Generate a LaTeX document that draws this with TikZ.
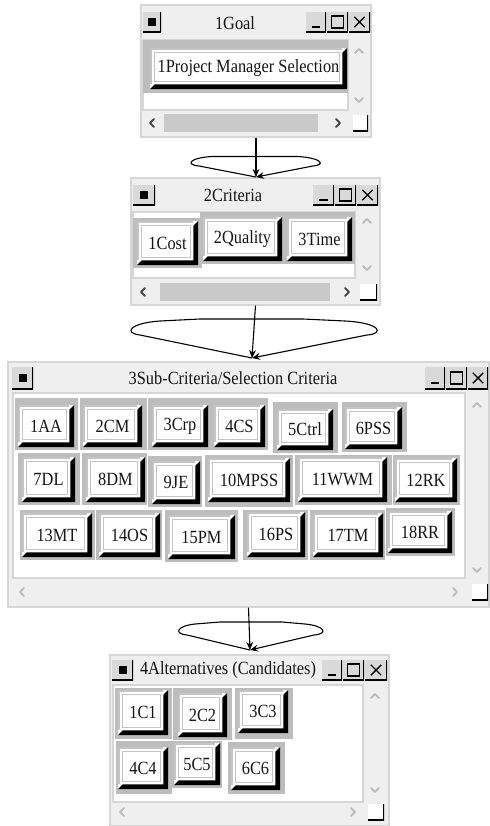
\documentclass[tikz,border=0pt]{standalone}
\usepackage{fontspec}
\setmainfont[FakeStretch=0.88]{Liberation Serif}
\usepackage{tikz}
\usetikzlibrary{arrows.meta}
\definecolor{frame}{HTML}{EFEFEF}
\definecolor{frameB}{HTML}{D6D6D6}
\definecolor{cell}{HTML}{BDBDBD}
\definecolor{face}{HTML}{C4C4C4}
\definecolor{tface}{HTML}{D9D9D9}
\definecolor{thumb}{HTML}{C9C9C9}
\definecolor{chevdark}{HTML}{474747}
\definecolor{chevlight}{HTML}{BDBDBD}
\definecolor{ink}{HTML}{151515}
\newcommand\uifont{\fontsize{9.3}{11}\selectfont}

\begin{document}
\begin{tikzpicture}[x=0.5pt, y=-0.5pt,
    every node/.style={font=\uifont, text=ink},
    box/.style n args={4}{rectangle, inner sep=0pt,
      minimum width={(#3-#1)*0.5pt}, minimum height={(#4-#2)*0.5pt},
      at={({(#1+#3)/2},{(#2+#4)/2})}},
    win/.style={draw=frameB, fill=frame, line width=0.6pt},
    pane/.style={draw=frameB, fill=white, line width=0.6pt},
    cellbox/.style={fill=cell},
    btn/.style={fill=white, path picture={
        \fill[black] (path picture bounding box.south west)
          -- (path picture bounding box.south east)
          -- (path picture bounding box.north east)
          -- ([shift={(-2.3pt,-2.3pt)}]path picture bounding box.north east)
          -- ([shift={(-2.3pt,2.3pt)}]path picture bounding box.south east)
          -- ([shift={(2.3pt,2.3pt)}]path picture bounding box.south west) -- cycle;
        \draw[face, line width=1.6pt] ([yshift=2.3pt]path picture bounding box.south west)
          -- (path picture bounding box.north west)
          -- ([xshift=-2.3pt]path picture bounding box.north east);
        \draw[face, line width=0.5pt] ([shift={(2pt,-2pt)}]path picture bounding box.north west)
          rectangle ([shift={(-3.8pt,3.8pt)}]path picture bounding box.south east);
      }},
    tbtn/.style={fill=tface, path picture={
        \coordinate (c) at (path picture bounding box.center);
        \draw[black, line width=1.3pt] (path picture bounding box.south west)
          -- (path picture bounding box.south east)
          -- (path picture bounding box.north east);
        #1}},
    tbtn/.default={},
    winmenu/.style={tbtn={\fill[black] (c) ++(-2pt,-2pt) rectangle ++(4pt,4pt);}},
    winmin/.style={tbtn={\draw[black, line width=1.1pt] (c) ++(-2.2pt,-2.6pt) -- ++(4.4pt,0pt);}},
    winmax/.style={tbtn={\draw[black, line width=0.6pt] (c) ++(-3pt,-3pt) rectangle ++(6pt,6pt);}},
    winclose/.style={tbtn={\draw[black, line width=0.7pt] (c) ++(-2.6pt,-2.6pt) -- ++(5.2pt,5.2pt)
        (c) ++(-2.6pt,2.6pt) -- ++(5.2pt,-5.2pt);}},
    sizer/.style={fill=white, path picture={
        \draw[black, line width=1.3pt] (path picture bounding box.south west)
          -- (path picture bounding box.south east)
          -- (path picture bounding box.north east);}},
    chev/.style={draw=chevlight, line width=0.9pt, line join=round, line cap=round},
    chevon/.style={chev, draw=chevdark},
    rel/.style={-{Stealth[length=4pt,width=3.4pt]}, draw=black, line width=0.55pt},
  ]
  \useasboundingbox (0,0) rectangle (489,826);

  % window 1, the goal
  \node[win, box={141}{5}{371}{137}] (goal) {};
  \node[winmenu, box={143}{12}{161}{32}] (goal-menu) {};
  \node (goal-title) at (235,23) {1Goal};
  \node[winmin, box={306}{12}{326}{32}] (goal-min) {};
  \node[winmax, box={327}{12}{348}{32}] (goal-max) {};
  \node[winclose, box={349}{12}{370}{32}] (goal-close) {};
  \node[pane, box={143}{40}{348}{110}] (goal-pane) {};
  \node[cellbox, box={143}{40}{348}{93}] (pms-cell) {};
  \node[btn, box={150}{48}{347}{89}] (pms) {1Project Manager Selection};
  \draw[chev] (355,53) -- (359,49) -- (363,53);
  \draw[chev] (355,98) -- (359,102) -- (363,98);
  \draw[chevon] (154,119) -- (150,123) -- (154,127);
  \fill[thumb] (164,114) rectangle (318,132);
  \draw[chevon] (336,119) -- (340,123) -- (336,127);
  \node[sizer, box={353}{115}{368}{131}] (goal-size) {};

  % window 2, the criteria
  \node[win, box={131}{178}{380}{305}] (crit) {};
  \node[winmenu, box={133}{185}{155}{205}] (crit-menu) {};
  \node (crit-title) at (233,195) {2Criteria};
  \node[winmin, box={313}{185}{334}{205}] (crit-min) {};
  \node[winmax, box={335}{185}{356}{205}] (crit-max) {};
  \node[winclose, box={357}{185}{378}{205}] (crit-close) {};
  \node[pane, box={133}{212}{355}{278}] (crit-pane) {};
  \node[cellbox, box={133}{218}{202}{268}] (cost-cell) {};
  \node[cellbox, box={200}{212}{355}{264}] (qt-cell) {};
  \node[btn, box={137}{221}{198}{265}] (cost) {1Cost};
  \node[btn, box={203}{217}{282}{261}] (quality) {2Quality};
  \node[btn, box={287}{217}{352}{261}] (time) {3Time};
  \draw[chev] (363,223) -- (367,219) -- (371,223);
  \draw[chev] (363,266) -- (367,270) -- (371,266);
  \draw[chevon] (145,288) -- (141,292) -- (145,296);
  \fill[thumb] (160,283) rectangle (330,301);
  \draw[chevon] (345,288) -- (349,292) -- (345,296);
  \node[sizer, box={360}{284}{377}{300}] (crit-size) {};

  % window 3, sub-criteria
  \node[win, box={8}{362}{489}{607}] (sub) {};
  \node[winmenu, box={12}{367}{33}{389}] (sub-menu) {};
  \node (sub-title) at (233,378) {3Sub-Criteria/Selection Criteria};
  \node[winmin, box={425}{367}{445}{389}] (sub-min) {};
  \node[winmax, box={446}{367}{467}{389}] (sub-max) {};
  \node[winclose, box={468}{367}{488}{389}] (sub-close) {};
  \node[pane, box={13}{393}{465}{578}] (sub-pane) {};
  % first row
  \node[cellbox, box={15}{398}{78}{450}] (aa-cell) {};
  \node[cellbox, box={80}{398}{147}{450}] (cm-cell) {};
  \node[cellbox, box={148}{398}{268}{450}] (crp-cell) {};
  \node[cellbox, box={273}{402}{338}{453}] (ctrl-cell) {};
  \node[cellbox, box={342}{402}{407}{452}] (pss-cell) {};
  \node[btn, box={18}{405}{74}{447}] (aa) {1AA};
  \node[btn, box={83}{405}{142}{447}] (cm) {2CM};
  \node[btn, box={152}{405}{208}{447}] (crp) {3Crp};
  \node[btn, box={214}{405}{265}{447}] (cs) {4CS};
  \node[btn, box={277}{409}{333}{450}] (ctrl) {5Ctrl};
  \node[btn, box={345}{407}{402}{449}] (pss) {6PSS};
  % second row
  \node[cellbox, box={18}{453}{80}{505}] (dl-cell) {};
  \node[cellbox, box={82}{453}{147}{505}] (dm-cell) {};
  \node[cellbox, box={148}{456}{202}{507}] (je-cell) {};
  \node[cellbox, box={205}{455}{293}{507}] (mpss-cell) {};
  \node[cellbox, box={295}{455}{392}{505}] (wwm-cell) {};
  \node[cellbox, box={393}{455}{460}{505}] (rk-cell) {};
  \node[btn, box={22}{457}{75}{502}] (dl) {7DL};
  \node[btn, box={86}{457}{145}{502}] (dm) {8DM};
  \node[btn, box={152}{461}{200}{504}] (je) {9JE};
  \node[btn, box={208}{458}{290}{502}] (mpss) {10MPSS};
  \node[btn, box={298}{457}{387}{502}] (wwm) {11WWM};
  \node[btn, box={395}{458}{457}{502}] (rk) {12RK};
  % third row
  \node[cellbox, box={20}{510}{95}{560}] (mt-cell) {};
  \node[cellbox, box={96}{510}{162}{560}] (os-cell) {};
  \node[cellbox, box={165}{510}{238}{562}] (pm-cell) {};
  \node[cellbox, box={243}{510}{308}{560}] (ps-cell) {};
  \node[cellbox, box={310}{510}{385}{560}] (tm-cell) {};
  \node[cellbox, box={386}{508}{455}{556}] (rr-cell) {};
  \node[btn, box={22}{513}{92}{557}] (mt) {13MT};
  \node[btn, box={99}{513}{160}{557}] (os) {14OS};
  \node[btn, box={168}{515}{235}{559}] (pm) {15PM};
  \node[btn, box={247}{512}{305}{557}] (ps) {16PS};
  \node[btn, box={313}{513}{383}{557}] (tm) {17TM};
  \node[btn, box={388}{511}{452}{553}] (rr) {18RR};
  \draw[chev] (473,407) -- (477,403) -- (481,407);
  \draw[chev] (473,568) -- (477,572) -- (481,568);
  \draw[chev] (24,588) -- (20,592) -- (24,596);
  \draw[chev] (453,588) -- (457,592) -- (453,596);
  \node[sizer, box={472}{584}{488}{600}] (sub-size) {};

  % window 4, the alternatives
  \node[win, box={110}{655}{389}{826}] (alt) {};
  \node[winmenu, box={112}{660}{133}{680}] (alt-menu) {};
  \node (alt-title) at (228,670) {4Alternatives (Candidates)};
  \node[winmin, box={322}{660}{342}{680}] (alt-min) {};
  \node[winmax, box={343}{660}{364}{680}] (alt-max) {};
  \node[winclose, box={365}{660}{387}{680}] (alt-close) {};
  \node[pane, box={113}{685}{363}{802}] (alt-pane) {};
  \node[cellbox, box={115}{688}{172}{739}] (c1-cell) {};
  \node[cellbox, box={173}{688}{232}{740}] (c2-cell) {};
  \node[cellbox, box={235}{688}{293}{739}] (c3-cell) {};
  \node[cellbox, box={116}{741}{172}{794}] (c4-cell) {};
  \node[cellbox, box={172}{741}{222}{788}] (c5-cell) {};
  \node[cellbox, box={228}{742}{285}{794}] (c6-cell) {};
  \node[btn, box={118}{690}{168}{735}] (c1) {1C1};
  \node[btn, box={178}{693}{227}{737}] (c2) {2C2};
  \node[btn, box={238}{690}{288}{733}] (c3) {3C3};
  \node[btn, box={118}{747}{168}{789}] (c4) {4C4};
  \node[btn, box={174}{743}{220}{785}] (c5) {5C5};
  \node[btn, box={231}{747}{280}{790}] (c6) {6C6};
  \draw[chev] (371,698) -- (375,694) -- (379,698);
  \draw[chev] (371,788) -- (375,792) -- (379,788);
  \draw[chev] (124,808) -- (120,812) -- (124,816);
  \draw[chev] (351,808) -- (355,812) -- (351,816);
  \node[sizer, box={368}{804}{384}{820}] (alt-size) {};

  % arrows between the levels, each with its loop
  \coordinate (t1) at (256,177);
  \coordinate (t2) at (252,358);
  \coordinate (t3) at (250,650);
  \draw[rel] (goal.south) -- (t1);
  \draw[rel] (t1) -- (199,166) .. controls (186,165) and (188,158) .. (212,156.5)
    -- (298,156.5) .. controls (322,158) and (326,165) .. (313,166) -- (t1);
  \draw[rel] (crit.south) -- (t2);
  \draw[rel] (t2) -- (140,335) .. controls (123,333) and (130,323) .. (160,321)
    -- (200,319) -- (303,319) -- (345,321) .. controls (382,323) and (384,334) .. (367,335) -- (t2);
  \draw[rel] (sub.south) -- (t3);
  \draw[rel] (t3) -- (187,635) .. controls (174,634) and (176,626) .. (195,624)
    -- (220,622) -- (282,622) -- (305,624) .. controls (326,626) and (328,634) .. (314,635) -- (t3);
\end{tikzpicture}
\end{document}
